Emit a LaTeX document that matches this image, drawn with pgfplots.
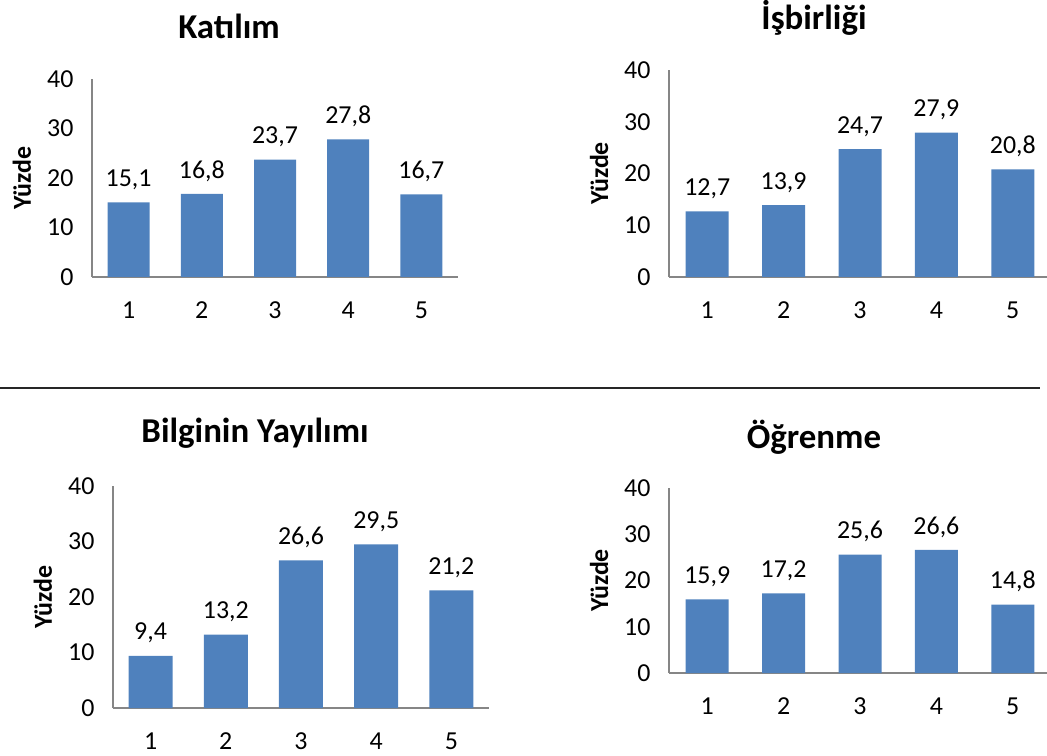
\documentclass[border=0pt]{standalone}
\usepackage{fontspec}
\setmainfont{Carlito}
\usepackage{pgfplots}
\pgfplotsset{compat=1.18}
\definecolor{barblue}{HTML}{4F81BD}
\definecolor{axgray}{HTML}{868686}

\pgfplotsset{
  yuzde/.style={
    scale only axis,
    ybar, bar width=43bp,
    xmin=0.5, xmax=5.5, ymin=0, ymax=40,
    xtick={1,...,5}, ytick={0,10,...,40},
    axis x line*=bottom, axis y line*=left,
    axis line style={-, axgray, line width=1.2bp},
    major tick length=0pt,
    tick label style={font=\fontsize{26}{26}\selectfont},
    /pgf/number format/assume math mode=true,
    xticklabel style={yshift=-21bp},
    yticklabel style={xshift=-15bp},
    nodes near coords,
    every node near coord/.append style={font=\fontsize{26}{26}\selectfont, text=black, yshift=9bp,
      /pgf/number format/fixed, /pgf/number format/fixed zerofill,
      /pgf/number format/precision=1, /pgf/number format/use comma,
      /pgf/number format/assume math mode=true},
    every axis title/.style={at={(rel axis cs:0.5,1)}, anchor=center, xshift=-46bp, yshift=53bp,
      font=\bfseries\fontsize{35}{35}\selectfont},
    every axis y label/.style={at={(rel axis cs:0,0.5)}, anchor=center, xshift=-70bp, rotate=90,
      font=\bfseries\fontsize{26}{26}\selectfont},
    ylabel={Yüzde},
  },
  bars/.style={fill=barblue, draw=none},
}

\begin{document}
\begin{tikzpicture}
  \path[use as bounding box] (0,0) rectangle (1047bp,756bp);

  % Katılım
  \begin{axis}[yuzde, at={(92bp,479bp)}, anchor=south west,
      width=366bp, height=198bp, bar width=42bp, title={Katılım}]
    \addplot[bars] coordinates {(1,15.1) (2,16.8) (3,23.7) (4,27.8) (5,16.7)};
  \end{axis}

  % İşbirliği
  \begin{axis}[yuzde, at={(669bp,479bp)}, anchor=south west,
      width=382bp, height=207bp, title={İşbirliği}, every axis title/.append style={yshift=-1bp}]
    \addplot[bars] coordinates {(1,12.7) (2,13.9) (3,24.7) (4,27.9) (5,20.8)};
  \end{axis}

  \draw[line width=2bp, black!85] (0,368bp) -- (1040bp,368bp);

  % Bilginin Yayılımı
  \begin{axis}[yuzde, at={(113bp,48bp)}, anchor=south west,
      width=376bp, height=222bp, bar width=44bp, title={Bilginin Yayılımı}]
    \addplot[bars] coordinates {(1,9.4) (2,13.2) (3,26.6) (4,29.5) (5,21.2)};
  \end{axis}

  % Öğrenme
  \begin{axis}[yuzde, at={(669bp,83bp)}, anchor=south west,
      width=382bp, height=185bp, title={Öğrenme}, every axis title/.append style={yshift=-2bp}]
    \addplot[bars] coordinates {(1,15.9) (2,17.2) (3,25.6) (4,26.6) (5,14.8)};
  \end{axis}
\end{tikzpicture}
\end{document}
